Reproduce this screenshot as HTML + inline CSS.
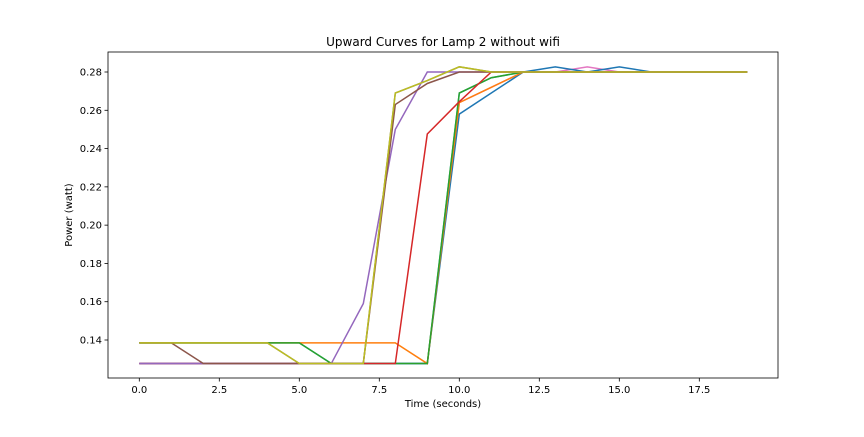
<!DOCTYPE html>
<html><head><meta charset="utf-8"><style>
body{margin:0;background:#fff;font-family:"Liberation Sans","DejaVu Sans",sans-serif;}
svg text{font-family:"DejaVu Sans","Liberation Sans",sans-serif;}
</style></head><body>
<svg id="chart" width="864" height="432" xmlns="http://www.w3.org/2000/svg"></svg>
<script>
const H=0.1385, L=0.1277;
const xValues=[0,1,2,3,4,5,6,7,8,9,10,11,12,13,14,15,16,17,18,19];
const seriesBlue=[L,L,L,L,L,L,L,L,L,L,0.258,0.269,0.28,0.2827,0.28,0.2827,0.28,0.28,0.28,0.28];
const seriesOrange=[H,H,H,H,H,H,H,H,H,L,0.264,0.272,0.28,0.28,0.28,0.28,0.28,0.28,0.28,0.28];
const seriesGreen=[H,H,H,H,H,H,L,L,L,L,0.269,0.277,0.28,0.28,0.28,0.28,0.28,0.28,0.28,0.28];
const seriesRed=[L,L,L,L,L,L,L,L,L,0.2476,0.2645,0.28,0.28,0.28,0.28,0.28,0.28,0.28,0.28,0.28];
const seriesPurple=[L,L,L,L,L,L,L,0.159,0.25,0.28,0.28,0.28,0.28,0.28,0.28,0.28,0.28,0.28,0.28,0.28];
const seriesBrown=[H,H,L,L,L,L,L,L,0.263,0.274,0.28,0.28,0.28,0.28,0.28,0.28,0.28,0.28,0.28,0.28];
const seriesPink=[L,L,L,L,L,L,L,L,L,L,0.264,0.272,0.28,0.28,0.2827,0.28,0.28,0.28,0.28,0.28];
const seriesGray=[H,H,H,H,H,L,L,L,0.269,0.2755,0.2827,0.28,0.28,0.28,0.28,0.28,0.28,0.28,0.28,0.28];
const seriesOlive=[H,H,H,H,H,L,L,L,0.269,0.2755,0.2827,0.28,0.28,0.28,0.28,0.28,0.28,0.28,0.28,0.28];
const seriesCyan=[H,H,H,H,H,H,L,L,L,L,0.269,0.277,0.28,0.28,0.28,0.28,0.28,0.28,0.28,0.28];
const xTicks=[0,2.5,5,7.5,10,12.5,15,17.5];
const yTicks=[0.14,0.16,0.18,0.20,0.22,0.24,0.26,0.28];
const series=[seriesBlue,seriesOrange,seriesGreen,seriesRed,seriesPurple,seriesBrown,seriesPink,seriesGray,seriesOlive,seriesCyan];
const names=['blue','orange','green','red','purple','brown','pink','gray','olive','cyan'];
const colors=['#1f77b4','#ff7f0e','#2ca02c','#d62728','#9467bd','#8c564b','#e377c2','#7f7f7f','#bcbd22','#17becf'];
const PL=108,PR=778,PT=52,PB=378;
const xs=v=>139.3+v*32;
const ys=v=>72+(0.28-v)*(340-72)/0.14;
const svg=document.getElementById('chart');
const NS='http://www.w3.org/2000/svg';
function mk(t,a){const e=document.createElementNS(NS,t);for(const k in a)e.setAttribute(k,a[k]);svg.appendChild(e);return e;}
const title=mk('text',{x:443,y:46,'text-anchor':'middle','font-size':12});
title.textContent='Upward Curves for Lamp 2 without wifi';


const order=[6,9,0,1,2,3,4,7,5,8];
order.forEach(i=>{
 const s=series[i];
 const p=mk('polyline',{points:s.map((v,j)=>xs(xValues[j])+','+ys(v)).join(' '),fill:'none',stroke:colors[i],'stroke-width':1.5});
 
 
});
const frame=mk('rect',{x:PL,y:PT,width:PR-PL,height:PB-PT,fill:'none',stroke:'#000','stroke-width':0.8});


xTicks.forEach(t=>{
 const x=xs(t);
 const tk=mk('line',{x1:x,x2:x,y1:PB,y2:PB+3.5,stroke:'#000','stroke-width':0.8});
 
 
 const l=mk('text',{x:x,y:PB+15,'text-anchor':'middle','font-size':10});
 l.textContent=t.toFixed(1);
 
 
});
yTicks.forEach(t=>{
 const y=ys(t);
 const tk=mk('line',{x1:PL-3.5,x2:PL,y1:y,y2:y,stroke:'#000','stroke-width':0.8});
 
 
 const l=mk('text',{x:PL-6,y:y+3.5,'text-anchor':'end','font-size':10});
 l.textContent=t.toFixed(2);
 
 
});
const xl=mk('text',{x:443,y:407,'text-anchor':'middle','font-size':10});
xl.textContent='Time (seconds)';


const yl=mk('text',{x:0,y:0,'text-anchor':'middle','font-size':10,transform:'translate(72,215) rotate(-90)'});
yl.textContent='Power (watt)';


</script>
</body></html>
